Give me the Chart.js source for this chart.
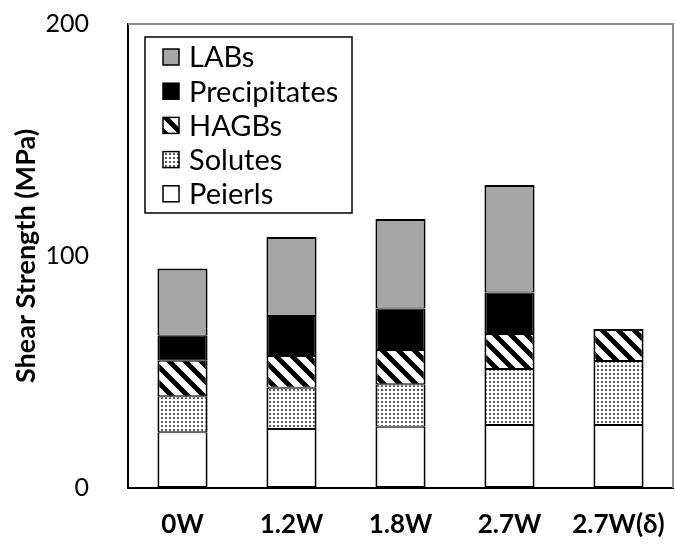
<!DOCTYPE html>
<html>
<head>
<meta charset="utf-8">
<script src="https://cdn.jsdelivr.net/npm/chart.js@4"></script>
<style>
  body { margin: 0; background: #fff; }
  #wrap { width: 675px; height: 548px; }
</style>
</head>
<body>
<div id="wrap"><canvas id="myChart" width="675" height="548"></canvas></div>
<script>
// data (MPa)
var categories = ['0W', '1.2W', '1.8W', '2.7W', '2.7W(δ)'];
var peierls = [24, 25.4, 26.4, 27.2, 27.2];
var solutes = [15.5, 17.8, 18.3, 24.1, 27.5];
var hagbs = [15.3, 13.7, 14.8, 15.1, 13.8];
var precipitates = [10.8, 17.2, 17.9, 17.9, null];
var labs = [29, 34.1, 38.6, 46.3, null];
var yTicks = [0, 100, 200];

var fontName = 'Lato, "Open Sans", sans-serif';

function stripePattern() {
    var c = document.createElement('canvas');
    c.width = 16; c.height = 16;
    var g = c.getContext('2d');
    g.fillStyle = '#fff';
    g.fillRect(0, 0, 16, 16);
    g.strokeStyle = '#000';
    g.lineWidth = 5;
    for (var o = -16; o <= 16; o += 16) {
        g.beginPath();
        g.moveTo(o - 2, -2);
        g.lineTo(o + 18, 18);
        g.stroke();
    }
    return g.createPattern(c, 'repeat');
}

function dotPattern() {
    var c = document.createElement('canvas');
    c.width = 4; c.height = 4;
    var g = c.getContext('2d');
    g.fillStyle = '#fff';
    g.fillRect(0, 0, 4, 4);
    g.fillStyle = '#5a5a5a';
    g.fillRect(1, 1, 2, 2);
    return g.createPattern(c, 'repeat');
}

// plot frame (grey top and right edges)
var framePlugin = {
    id: 'frame',
    beforeDatasetsDraw: function (chart) {
        var a = chart.chartArea, ctx = chart.ctx;
        ctx.save();
        ctx.strokeStyle = '#8c8c8c';
        ctx.lineWidth = 2;
        ctx.beginPath();
        ctx.moveTo(a.left, a.top);
        ctx.lineTo(a.right, a.top);
        ctx.lineTo(a.right, a.bottom);
        ctx.stroke();
        ctx.restore();
    }
};

// boxed legend inside the plot
var boxLegend = {
    id: 'boxLegend',
    afterDraw: function (chart) {
        var a = chart.chartArea, ctx = chart.ctx;
        var x0 = a.left + 17, y0 = a.top + 13, w = 207, h = 176;
        ctx.save();
        ctx.fillStyle = '#fff';
        ctx.fillRect(x0, y0, w, h);
        ctx.strokeStyle = '#000';
        ctx.lineWidth = 1.5;
        ctx.strokeRect(x0, y0, w, h);
        var ds = chart.data.datasets.slice().reverse();
        ctx.font = '29px ' + fontName;
        ctx.textBaseline = 'middle';
        ds.forEach(function (d, i) {
            var cy = y0 + 20 + i * 34.2;
            ctx.fillStyle = d.backgroundColor;
            ctx.fillRect(x0 + 18, cy - 8, 16, 16);
            ctx.strokeStyle = '#000';
            ctx.lineWidth = 1.5;
            ctx.strokeRect(x0 + 18, cy - 8, 16, 16);
            ctx.fillStyle = '#000';
            ctx.fillText(d.label, x0 + 44, cy + 1);
        });
        ctx.restore();
    }
};

// thinner inner edges so stacked boundaries are not doubled
function edgeWidth(c) {
    var sets = c.chart.data.datasets;
    var top = true;
    for (var k = c.datasetIndex + 1; k < sets.length; k++) {
        if (sets[k].data[c.dataIndex] != null) top = false;
    }
    return {
        left: 2,
        right: 2,
        top: top ? 2 : 1,
        bottom: c.datasetIndex === 0 ? 2 : 1
    };
}

function makeSet(label, values, fill) {
    return {
        label: label,
        data: values,
        backgroundColor: fill,
        borderColor: '#000',
        borderWidth: edgeWidth,
        borderSkipped: false,
        barPercentage: 0.46,
        categoryPercentage: 1
    };
}

var ctx = document.getElementById('myChart').getContext('2d');
var chart = new Chart(ctx, {
    type: 'bar',
    data: {
        labels: categories,
        datasets: [
            makeSet('Peierls', peierls, '#ffffff'),
            makeSet('Solutes', solutes, dotPattern()),
            makeSet('HAGBs', hagbs, stripePattern()),
            makeSet('Precipitates', precipitates, '#000000'),
            makeSet('LABs', labs, '#a6a6a6')
        ]
    },
    options: {
        responsive: false,
        animation: false,
        events: [],
        layout: { padding: { top: 24, right: 2, left: 0, bottom: 0 } },
        plugins: {
            legend: { display: false },
            tooltip: { enabled: false }
        },
        scales: {
            x: {
                stacked: true,
                grid: { display: false },
                border: { display: true, color: '#000', width: 2 },
                ticks: {
                    color: '#000',
                    padding: 13,
                    font: { family: fontName, size: 26, weight: 'bold' }
                },
                afterFit: function (s) {
                    s.height = 60;
                    s.paddingLeft = 0;
                    s.paddingRight = 0;
                }
            },
            y: {
                stacked: true,
                min: 0,
                max: 200,
                grid: { display: false },
                border: { display: true, color: '#000', width: 2 },
                afterBuildTicks: function (s) {
                    s.ticks = yTicks.map(function (v) { return { value: v }; });
                },
                ticks: {
                    color: '#000',
                    padding: 31,
                    font: { family: fontName, size: 25 }
                },
                title: {
                    display: true,
                    text: 'Shear Strength (MPa)',
                    color: '#000',
                    padding: { top: 10, bottom: 0 },
                    font: { family: fontName, size: 27, weight: 'bold' }
                },
                afterFit: function (s) {
                    s.width = 128;
                    s.paddingTop = 0;
                    s.paddingBottom = 0;
                }
            }
        }
    },
    plugins: [framePlugin, boxLegend]
});
</script>
</body>
</html>
